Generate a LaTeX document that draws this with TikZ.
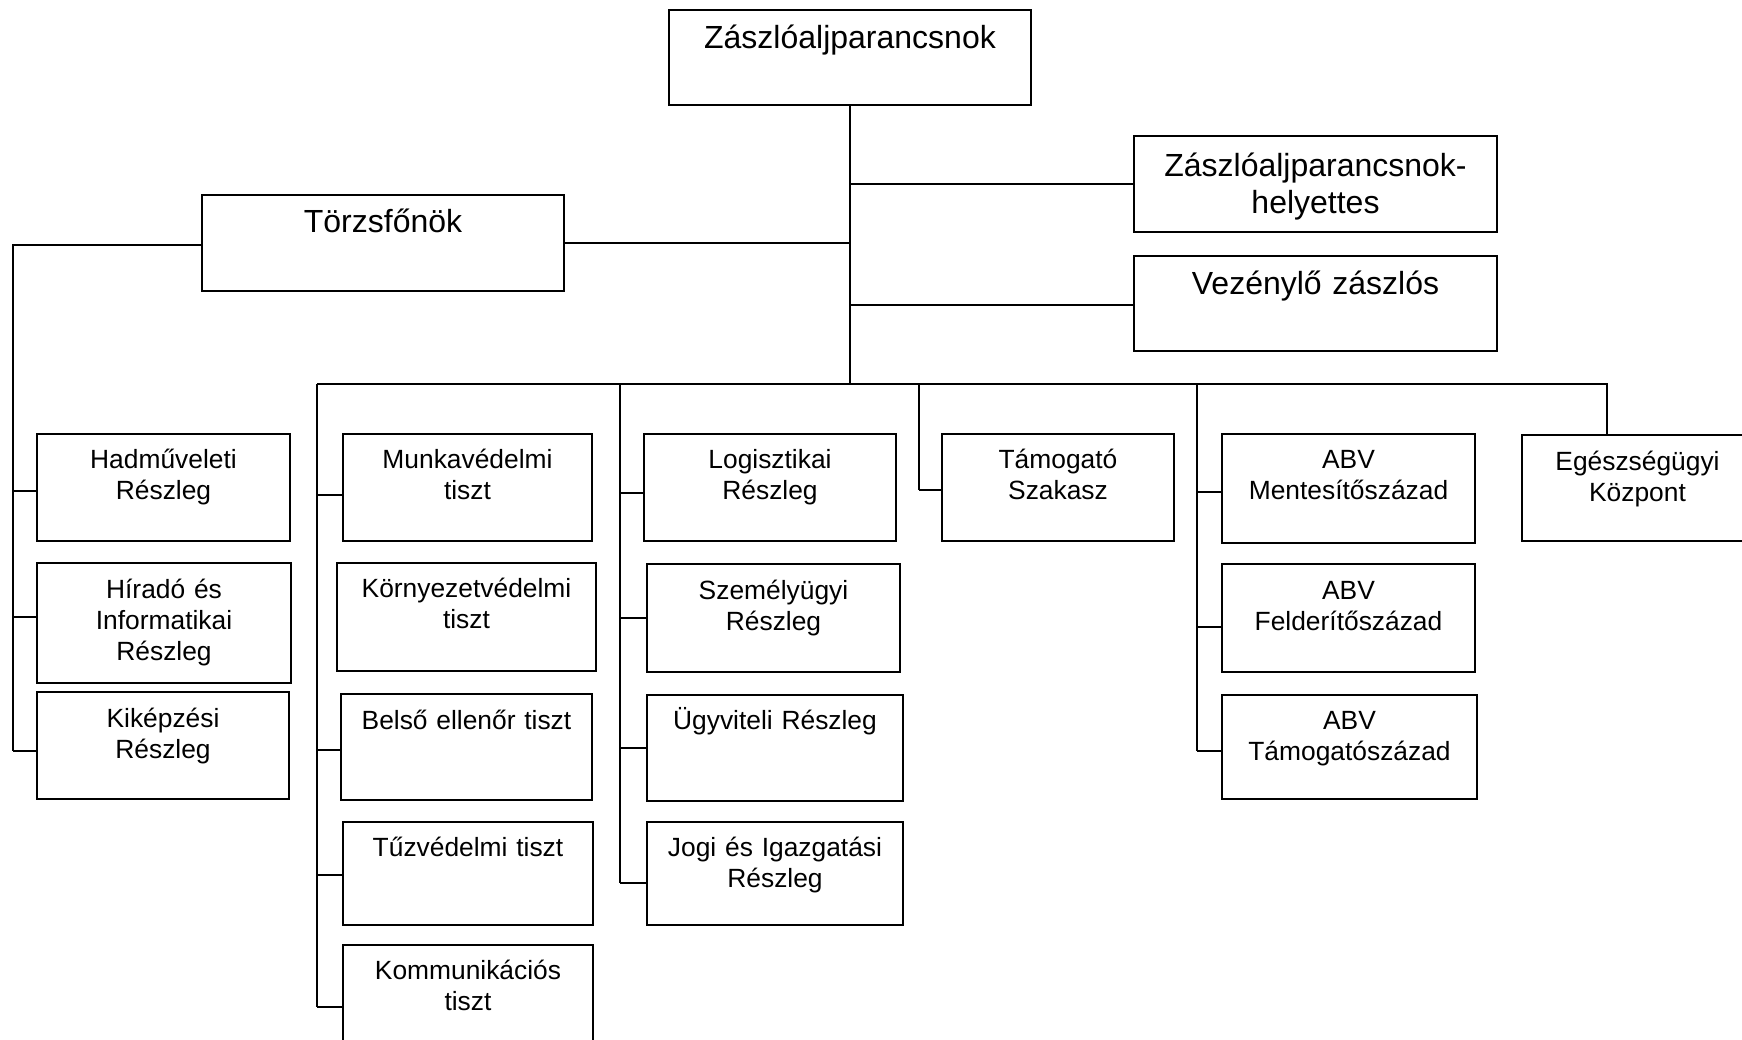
\documentclass[tikz,border=0pt]{standalone}
\usepackage{fontspec}
\setmainfont{Liberation Sans}
\tikzset{
  box/.style={draw, line width=0.55pt, inner sep=0pt, align=center},
  big/.style={font=\fontsize{9.1}{10.25}\selectfont},
  sm/.style={font=\fontsize{7.5}{8.73}\selectfont},
  conn/.style={line width=0.55pt},
}
% #1 name, #2 style, #3 x1, #4 y1, #5 x2, #6 y2, #7 baseline offset, #8 text  (pixels, y down)
\newcommand\orgbox[8]{%
  \pgfmathsetmacro\obw{(#5-#3)*0.01}%
  \pgfmathsetmacro\obo{#7*0.01}%
  \pgfmathsetmacro\obd{(#6-#4-#7)*0.01}%
  \pgfmathsetmacro\obx{(#3+#5)/2}%
  \node[box,#2,text width=\obw cm,text height=\obo cm,text depth=\obd cm,anchor=north] (#1) at (\obx,#4) {#8};%
}
% #1 spine coordinate, #2 node, #3 shift in px (positive = downwards)
\newcommand\orgstub[3]{%
  \pgfmathsetmacro\obs{-(#3)*0.01}%
  \coordinate (#2-s) at ([yshift=\obs cm]#2.west);%
  \draw[conn] (#1 |- #2-s) -- (#2-s);%
}
\begin{document}
\begin{tikzpicture}[x=0.01cm,y=-0.01cm]
\useasboundingbox (0,0) rectangle (1742,1040);

% upper level
\orgbox{top}{big}{669}{9}{1031}{104}{39}{Zászlóaljparancsnok}
\orgbox{hely}{big}{1134}{135}{1497}{231}{41}{Zászlóaljparancsnok-\\helyettes}
\orgbox{vez}{big}{1134}{255}{1497}{350}{39}{Vezénylő zászlós}
\orgbox{tf}{big}{202}{194}{564}{290}{38}{Törzsfőnök}

% column 1
\orgbox{hadm}{sm}{37}{433}{290}{540}{35}{Hadműveleti\\Részleg}
\orgbox{hir}{sm}{37}{562}{291}{682}{36}{Híradó és\\Informatikai\\Részleg}
\orgbox{kik}{sm}{37}{691}{289}{798}{36}{Kiképzési\\Részleg}

% column 2
\orgbox{munka}{sm}{343}{433}{592}{540}{35}{Munkavédelmi\\tiszt}
\orgbox{korny}{sm}{337}{562}{596}{670}{35}{Környezetvédelmi\\tiszt}
\orgbox{belso}{sm}{341}{693}{592}{799}{35.5}{Belső ellenőr tiszt}
\orgbox{tuz}{sm}{343}{821}{593}{924}{35}{Tűzvédelmi tiszt}
\orgbox{komm}{sm}{343}{944}{593}{1068}{35}{Kommunikációs\\tiszt}

% column 3
\orgbox{log}{sm}{644}{433}{896}{540}{35}{Logisztikai\\Részleg}
\orgbox{szem}{sm}{647}{563}{900}{671}{36}{Személyügyi\\Részleg}
\orgbox{ugy}{sm}{647}{694}{903}{800}{35}{Ügyviteli Részleg}
\orgbox{jogi}{sm}{647}{821}{903}{924}{35}{Jogi és Igazgatási\\Részleg}

% column 4
\orgbox{tam}{sm}{942}{433}{1174}{540}{35}{Támogató\\Szakasz}

% column 5
\orgbox{ment}{sm}{1222}{433}{1475}{542}{35}{ABV\\Mentesítőszázad}
\orgbox{feld}{sm}{1222}{563}{1475}{671}{36}{ABV\\Felderítőszázad}
\orgbox{abvt}{sm}{1222}{694}{1477}{798}{35}{ABV\\Támogatószázad}

% column 6 (runs past the right edge)
\orgbox{egesz}{sm}{1522}{434}{1753}{540}{36}{Egészségügyi\\Központ}

% coordinates of the lines
\coordinate (bus) at (851,384);
\coordinate (L) at (13,0);
\coordinate (s2) at (317,384);
\coordinate (s3) at (620,384);
\coordinate (s4) at (919,384);
\coordinate (s5) at (1197,384);
\coordinate (s6) at (1607,384);

% trunk and upper branches
\draw[conn] (top.south) -- (top.south |- bus);
\draw[conn] (tf.east) -- (tf.east -| top.south);
\draw[conn] (hely.west) -- (hely.west -| top.south);
\draw[conn] ([yshift=-0.02cm]vez.west) -- ([yshift=-0.02cm]vez.west -| top.south);

% bus
\draw[conn] (s2) -- (s6) -- (s6 |- egesz.north);

% stubs
\orgstub{L}{hadm}{3.5}
\orgstub{L}{hir}{-6}
\orgstub{L}{kik}{5.5}
\orgstub{s2}{munka}{7.5}
\orgstub{s2}{belso}{3}
\orgstub{s2}{tuz}{1.5}
\orgstub{s2}{komm}{0}
\orgstub{s3}{log}{5.5}
\orgstub{s3}{szem}{0}
\orgstub{s3}{ugy}{0}
\orgstub{s3}{jogi}{9.5}
\orgstub{s4}{tam}{2.5}
\orgstub{s5}{ment}{3.5}
\orgstub{s5}{feld}{9}
\orgstub{s5}{abvt}{4}

% spines
\draw[conn] ([yshift=-0.02cm]tf.west) -- ([yshift=-0.02cm]tf.west -| L) -- (L |- kik-s);
\draw[conn] (s2) -- (s2 |- komm-s);
\draw[conn] (s3) -- (s3 |- jogi-s);
\draw[conn] (s4) -- (s4 |- tam-s);
\draw[conn] (s5) -- (s5 |- abvt-s);
\end{tikzpicture}
\end{document}
